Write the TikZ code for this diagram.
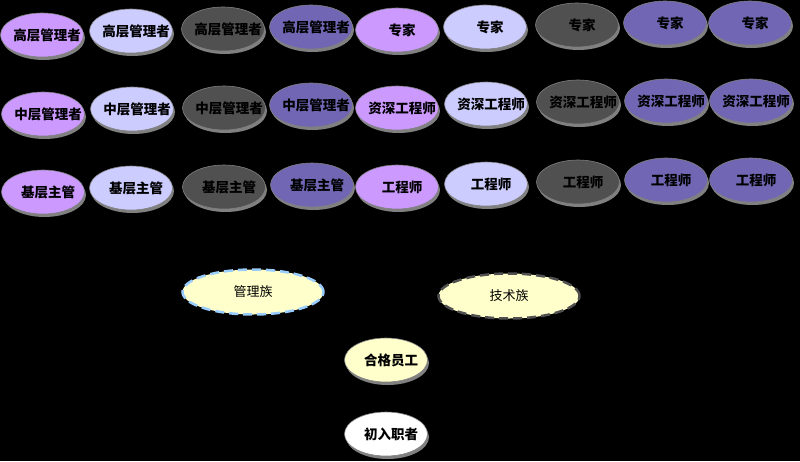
\documentclass[tikz,border=0pt]{standalone}
\usepackage{fontspec}
\setmainfont{Noto Sans CJK SC}
\usetikzlibrary{shapes.geometric,shadows}
\definecolor{cpink}{RGB}{204,153,255}
\definecolor{clav}{RGB}{204,204,255}
\definecolor{cdark}{RGB}{80,80,80}
\definecolor{cpurp}{RGB}{112,102,180}
\definecolor{cyel}{RGB}{255,255,204}
\definecolor{cblue}{RGB}{153,204,255}
\definecolor{cshad}{RGB}{128,128,128}
\tikzset{
  disc/.style={ellipse, draw=cshad, line width=0.6pt, minimum width=83pt, minimum height=44pt, inner sep=0pt,
    font=\fontsize{13.5}{15}\selectfont\bfseries,
    drop shadow={shadow xshift=1.5pt, shadow yshift=-3pt, fill=cshad, opacity=1}},
  pk/.style={disc, fill=cpink},
  lv/.style={disc, fill=clav},
  dk/.style={disc, fill=cdark},
  pp/.style={disc, fill=cpurp},
  fam/.style={ellipse, minimum width=141pt, minimum height=45pt, inner sep=0pt, fill=cyel,
    line width=2.5pt, dash pattern=on 9pt off 5pt, font=\fontsize{13}{15}\selectfont},
}
\newcommand{\tx}[1]{\makebox[0pt]{\hspace*{10pt}#1}}
\begin{document}
\begin{tikzpicture}[x=1pt,y=-1pt]
\fill[black] (0,0) rectangle (800,461);
\useasboundingbox (0,0) rectangle (800,461);
% row 1
\node[pk] (a1) at (42,35) {\tx{高层管理者}};
\node[lv] (a2) at (131,31) {\tx{高层管理者}};
\node[dk] (a3) at (223,29) {\tx{高层管理者}};
\node[pp] (a4) at (311,27) {\tx{高层管理者}};
\node[pk] (a5) at (397,30) {\tx{专家}};
\node[lv] (a6) at (485,27) {\tx{专家}};
\node[dk] (a7) at (577,25) {\tx{专家}};
\node[pp] (a8) at (665,23) {\tx{专家}};
\node[pp] (a9) at (750,23) {\tx{专家}};
% row 2
\node[pk] (b1) at (43,114) {\tx{中层管理者}};
\node[lv] (b2) at (132,109) {\tx{中层管理者}};
\node[dk] (b3) at (224,108) {\tx{中层管理者}};
\node[pp] (b4) at (311,105) {\tx{中层管理者}};
\node[pk] (b5) at (397,108) {\tx{资深工程师}};
\node[lv] (b6) at (486,104) {\tx{资深工程师}};
\node[dk] (b7) at (578,102) {\tx{资深工程师}};
\node[pp] (b8) at (666,101) {\tx{资深工程师}};
\node[pp] (b9) at (751,101) {\tx{资深工程师}};
% row 3
\node[pk] (c1) at (43,192) {\tx{基层主管}};
\node[lv] (c2) at (131,188) {\tx{基层主管}};
\node[dk] (c3) at (224,187) {\tx{基层主管}};
\node[pp] (c4) at (312,185) {\tx{基层主管}};
\node[pk] (c5) at (397,187) {\tx{工程师}};
\node[lv] (c6) at (486,184) {\tx{工程师}};
\node[dk] (c7) at (578,182) {\tx{工程师}};
\node[pp] (c8) at (666,180) {\tx{工程师}};
\node[pp] (c9) at (751,180) {\tx{工程师}};
% families
\node[fam, draw=cblue] (mg) at (253,292) {管理族};
\node[fam, draw=cdark] (te) at (509,296) {技术族};
% bottom
\node[disc, fill=cyel] (hg) at (386,360) {\tx{合格员工}};
\node[disc, fill=white] (cr) at (386,434) {\tx{初入职者}};
\end{tikzpicture}
\end{document}
